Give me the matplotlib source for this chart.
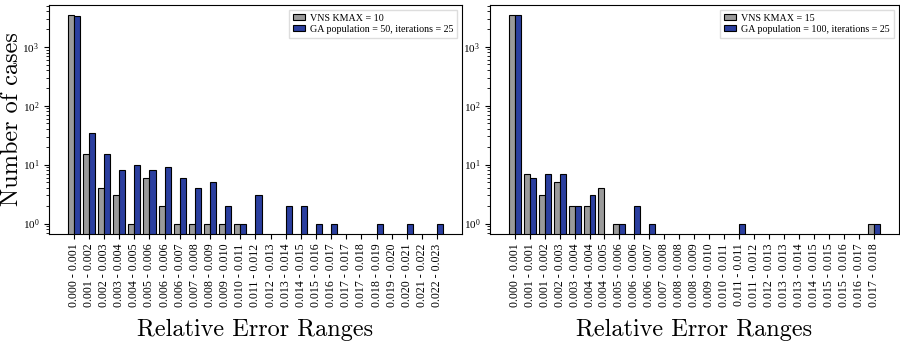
import numpy as np
import matplotlib
matplotlib.use("Agg")
import matplotlib.pyplot as plt

plt.rcParams['font.family'] = ['Liberation Serif', 'DejaVu Serif']
plt.rcParams['mathtext.fontset'] = 'stix'

# left panel: KMAX = 10 vs GA pop 50
ranges_a = ["0.000 - 0.001", "0.001 - 0.002", "0.002 - 0.003", "0.003 - 0.004",
            "0.004 - 0.005", "0.005 - 0.006", "0.006 - 0.006", "0.006 - 0.007",
            "0.007 - 0.008", "0.008 - 0.009", "0.009 - 0.010", "0.010 - 0.011",
            "0.011 - 0.012", "0.012 - 0.013", "0.013 - 0.014", "0.014 - 0.015",
            "0.015 - 0.016", "0.016 - 0.017", "0.017 - 0.017", "0.017 - 0.018",
            "0.018 - 0.019", "0.019 - 0.020", "0.020 - 0.021", "0.021 - 0.022",
            "0.022 - 0.023"]
vns_a = [3450, 15, 4, 3, 1, 6, 2, 1, 1, 1, 1, 1, 0, 0, 0, 0, 0, 0, 0, 0, 0, 0, 0, 0, 0]
ga_a = [3380, 34, 15, 8, 10, 8, 9, 6, 4, 5, 2, 1, 3, 0, 2, 2, 1, 1, 0, 0, 1, 0, 1, 0, 1]

# right panel: KMAX = 15 vs GA pop 100
ranges_b = ["0.000 - 0.001", "0.001 - 0.001", "0.001 - 0.002", "0.002 - 0.003",
            "0.003 - 0.004", "0.004 - 0.004", "0.004 - 0.005", "0.005 - 0.006",
            "0.006 - 0.006", "0.006 - 0.007", "0.007 - 0.008", "0.008 - 0.008",
            "0.008 - 0.009", "0.009 - 0.010", "0.010 - 0.011", "0.011 - 0.011",
            "0.011 - 0.012", "0.012 - 0.013", "0.013 - 0.013", "0.013 - 0.014",
            "0.014 - 0.015", "0.015 - 0.015", "0.015 - 0.016", "0.016 - 0.017",
            "0.017 - 0.018"]
vns_b = [3430, 7, 3, 5, 2, 2, 4, 1, 0, 0, 0, 0, 0, 0, 0, 0, 0, 0, 0, 0, 0, 0, 0, 0, 1]
ga_b = [3430, 6, 7, 7, 2, 3, 0, 1, 2, 1, 0, 0, 0, 0, 0, 1, 0, 0, 0, 0, 0, 0, 0, 0, 1]

labels_a = ["VNS KMAX = 10", "GA population = 50, iterations = 25"]
labels_b = ["VNS KMAX = 15", "GA population = 100, iterations = 25"]

gray = '#9a9a9a'
blue = '#2b3f9f'
w = 0.4

fig = plt.figure(figsize=(9, 3.43), dpi=100)
ax1 = fig.add_axes([0.0544, 0.318, 0.4589, 0.668])
ax2 = fig.add_axes([0.5444, 0.318, 0.4544, 0.668])


def draw(ax, ranges, vns, ga, labels, ylabel):
    x = np.arange(len(ranges))
    ax.bar(x - w / 2, vns, w, color=gray, edgecolor='black', linewidth=0.8, label=labels[0])
    ax.bar(x + w / 2, ga, w, color=blue, edgecolor='black', linewidth=0.8, label=labels[1])
    ax.set_yscale('log')
    ax.set_xticks(x)
    ax.set_xticklabels(ranges, rotation=90, fontsize=8.6)
    ax.tick_params(axis='y', labelsize=8)
    ax.set_xlabel("Relative Error Ranges", family='cmr10', fontsize=17.5, labelpad=8)
    if ylabel:
        ax.set_ylabel("Number of cases", family='cmr10', fontsize=17.5)
        ax.yaxis.set_label_coords(-0.062, 0.5)
    ax.legend(loc='upper right', fontsize=7.2, handlelength=1.2, handleheight=0.6,
              borderpad=0.4, labelspacing=0.2, handletextpad=0.5,
              fancybox=False, framealpha=1, edgecolor='#dddddd')


draw(ax1, ranges_a, vns_a, ga_a, labels_a, True)
draw(ax2, ranges_b, vns_b, ga_b, labels_b, False)

fig.savefig("out.png", dpi=100)
